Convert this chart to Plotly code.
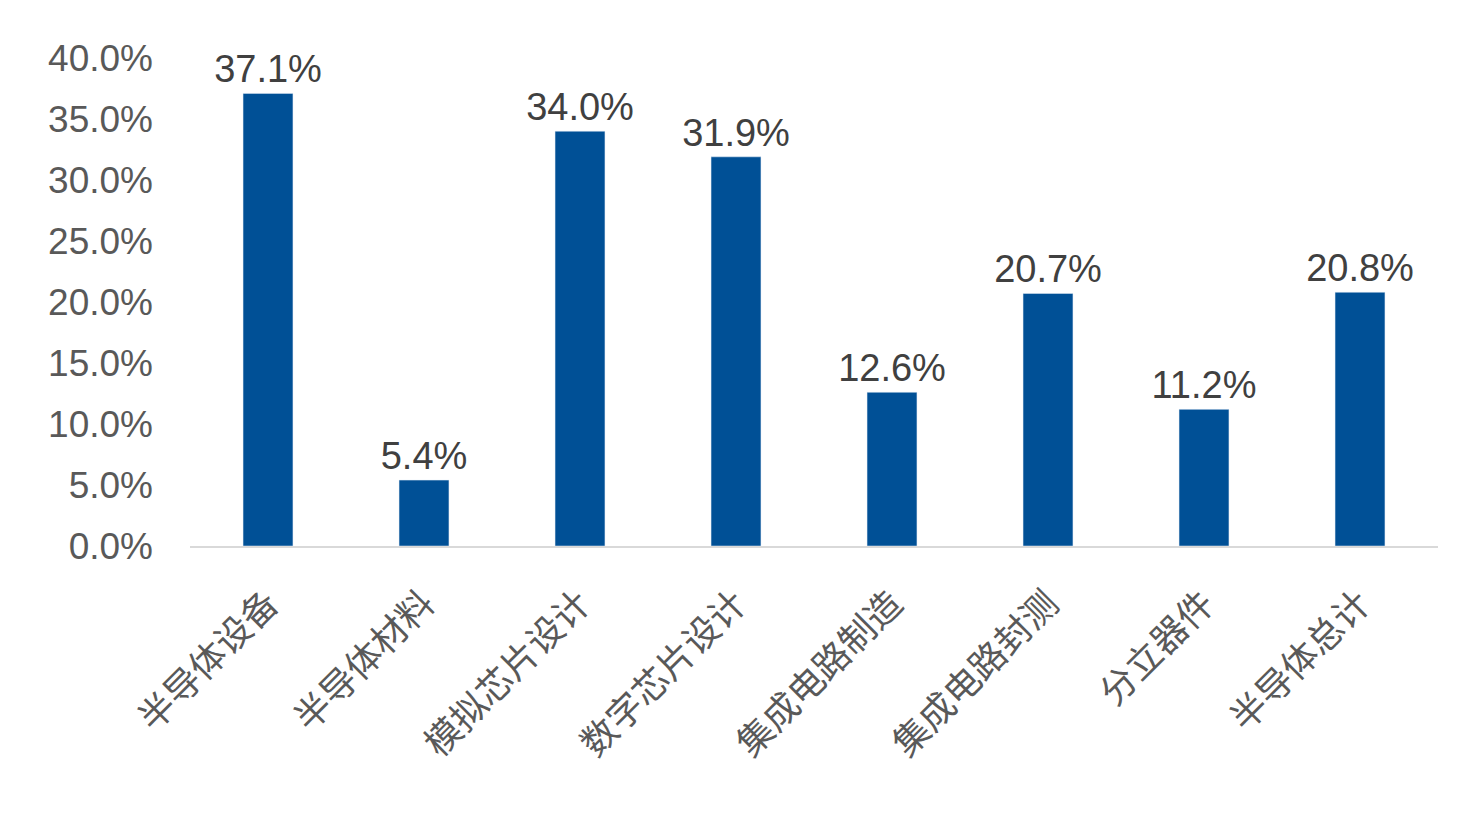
import plotly.graph_objects as go

categories = ["半导体设备", "半导体材料", "模拟芯片设计", "数字芯片设计", "集成电路制造", "集成电路封测", "分立器件", "半导体总计"]
values = [37.1, 5.4, 34.0, 31.9, 12.6, 20.7, 11.2, 20.8]
tick_vals = [0, 5, 10, 15, 20, 25, 30, 35, 40]
tick_text = ["0.0%", "5.0%", "10.0%", "15.0%", "20.0%", "25.0%", "30.0%", "35.0%", "40.0%"]

fig = go.Figure(go.Bar(
    x=categories, y=values, width=0.32, marker_color="#005096",
    text=[f"{v:.1f}%" for v in values], textposition="outside", constraintext="none",
    textfont=dict(size=38, color="#404040"), cliponaxis=False,
))
fig.update_layout(
    width=1482, height=819, margin=dict(l=182, r=52, t=50, b=281, autoexpand=False),
    plot_bgcolor="white", paper_bgcolor="white", showlegend=False,
    font=dict(family="Liberation Sans, Arial, Noto Sans CJK SC", color="#595959"),
    uniformtext=dict(minsize=38, mode="show"),
)
fig.update_yaxes(range=[0, 40], tickvals=tick_vals, ticktext=tick_text, showgrid=False, automargin=False,
                 zeroline=False, tickfont=dict(size=37, color="#595959"), ticks="", ticklabelstandoff=36)
fig.update_xaxes(tickangle=-45, automargin=False, tickfont=dict(size=36, color="#595959", family="Noto Sans CJK SC"),
                 showline=True, linecolor="#d9d9d9", linewidth=2, ticklabelstandoff=20)
fig.write_html("out.html")
